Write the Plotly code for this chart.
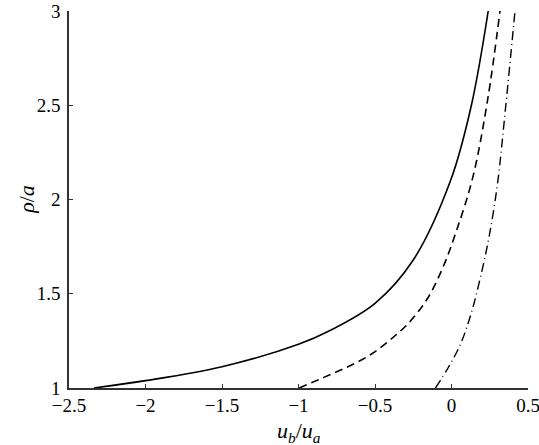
import plotly.graph_objects as go

solid_x = [-2.337, -2.0, -1.5, -1.0, -0.794, -0.5, -0.25, -0.005, 0.13, 0.24]
solid_y = [1.0, 1.039, 1.113, 1.232, 1.305, 1.449, 1.679, 2.103, 2.5, 3.0]

dashed_x = [-0.995, -0.838, -0.685, -0.533, -0.402, -0.282, -0.156, -0.054, 0.034, 0.14, 0.236, 0.317]
dashed_y = [1.0, 1.055, 1.11, 1.175, 1.255, 1.343, 1.476, 1.644, 1.838, 2.12, 2.528, 3.0]

dashdot_x = [-0.105, -0.02, 0.06, 0.13, 0.19, 0.245, 0.30, 0.355, 0.415]
dashdot_y = [1.0, 1.11, 1.235, 1.40, 1.59, 1.80, 2.08, 2.50, 3.0]

x_ticks = [-2.5, -2, -1.5, -1, -0.5, 0, 0.5]
y_ticks = [1, 1.5, 2, 2.5, 3]

fig = go.Figure()
fig.add_trace(go.Scatter(x=solid_x, y=solid_y, mode="lines",
                         line=dict(color="black", width=1.6, shape="spline")))
fig.add_trace(go.Scatter(x=dashed_x, y=dashed_y, mode="lines",
                         line=dict(color="black", width=1.6, shape="spline", dash="8px,5px")))
fig.add_trace(go.Scatter(x=dashdot_x, y=dashdot_y, mode="lines",
                         line=dict(color="black", width=1.4, shape="spline", dash="9px,4px,1px,4px")))

font = "Liberation Serif, Times New Roman, serif"
fig.update_layout(
    width=539, height=445,
    margin=dict(l=69, r=11, t=11, b=57, autoexpand=False),
    paper_bgcolor="white", plot_bgcolor="white",
    showlegend=False,
    font=dict(family=font, size=19, color="black"),
)
fig.update_xaxes(
    range=[-2.5, 0.5], tickvals=x_ticks, showgrid=False, zeroline=False,
    showline=True, linecolor="#333", linewidth=1.5,
    ticks="inside", ticklen=4, tickcolor="#333", tickwidth=1,
    tickfont=dict(family=font, size=19), ticklabeloverflow="allow",
    ticklabelstandoff=-1,
)
fig.update_yaxes(
    range=[1, 3], tickvals=y_ticks, showgrid=False, zeroline=False,
    showline=True, linecolor="#333", linewidth=1.5,
    ticks="inside", ticklen=4, tickcolor="#333", tickwidth=1,
    tickfont=dict(family=font, size=19), ticklabeloverflow="allow",
    ticklabelstandoff=3,
)
fig.add_annotation(text="<i>u</i><sub><i>b</i></sub>/<i>u</i><sub><i>a</i></sub>",
                   xref="paper", yref="paper", x=0.5, y=-0.117,
                   xanchor="center", yanchor="middle", showarrow=False,
                   font=dict(family=font, size=22, color="black"))
fig.add_annotation(text="<i>ρ</i>/<i>a</i>",
                   xref="paper", yref="paper", x=-0.093, y=0.5, textangle=-90,
                   xanchor="center", yanchor="middle", showarrow=False,
                   font=dict(family=font, size=22, color="black"))
fig.write_html("out.html", config={"displayModeBar": False},
               post_script="document.body.style.margin='0';document.body.style.overflow='hidden';")
